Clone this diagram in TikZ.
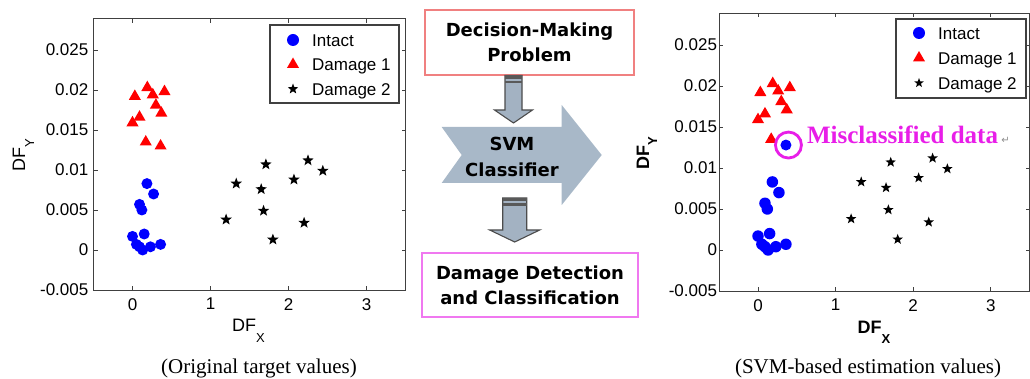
\documentclass[tikz,border=0pt]{standalone}
\usepackage{fontspec}
\setmainfont{Liberation Serif}
\setsansfont{Liberation Sans}
\newfontfamily\boxfont{DejaVu Sans}
\newfontfamily\symfont{DejaVu Sans}
\usetikzlibrary{shapes.geometric, positioning}

\definecolor{boxred}{RGB}{240,128,128}
\definecolor{boxpink}{RGB}{240,120,240}
\definecolor{arrowfill}{RGB}{168,184,200}
\definecolor{downfill}{RGB}{163,178,194}
\definecolor{miscpink}{RGB}{232,30,232}

\tikzset{
  frame/.style={draw=black!75, line width=0.8pt},
  intact/.style={circle, fill=blue, inner sep=0pt, minimum size=11pt},
  dmgone/.style={regular polygon, regular polygon sides=3, fill=red, inner sep=0pt, minimum size=14pt},
  dmgtwo/.style={star, star points=5, star point ratio=2.4, fill=black, inner sep=0pt, minimum size=12pt},
  ticklab/.style={font=\sffamily\fontsize{17}{17}\selectfont, inner sep=0pt},
  leglab/.style={font=\sffamily\fontsize{17}{17}\selectfont, anchor=base west, inner sep=0pt},
  axlab/.style={font=\sffamily\fontsize{18}{18}\selectfont, inner sep=0pt, anchor=base},
  flowbox/.style={draw, line width=1.3pt, fill=white, align=center,
    font=\boxfont\bfseries\fontsize{18}{25}\selectfont},
  downarrow/.style={fill=downfill, draw=black!70, line width=1.1pt},
  caption/.style={font=\rmfamily\fontsize{21}{21}\selectfont, inner sep=0pt}
}

% data (x, y in units of 0.001)
\newcommand{\intactpts}{0.185/8.3, 0.27/7.0, 0.09/5.7, 0.12/5.0, 0/1.7, 0.15/2.0, 0.05/0.7, 0.09/0.4, 0.13/0.0, 0.23/0.4, 0.36/0.7}
\newcommand{\dmgonepts}{0.19/20.3, 0.03/19.2, 0.26/19.4, 0.41/19.8, 0.30/18.1, 0.37/17.1, 0.09/16.6, 0.0/15.9, 0.17/13.5}
\newcommand{\dmgtwopts}{1.33/8.3, 1.71/10.7, 2.25/11.2, 2.44/9.9, 2.07/8.8, 1.65/7.6, 1.68/4.9, 1.20/3.8, 2.20/3.4, 1.80/1.3}

\newcommand{\plotaxes}[2]{% #1 prefix, #2 gap of the y labels
  \draw[frame] (-0.5,-5) rectangle (3.5,28.9);
  \foreach \t in {0,1,2,3} {
    \draw[frame] (\t,-5) -- ++(0pt,4pt) (\t,28.9) -- ++(0pt,-4pt);
    \node[ticklab, anchor=north, yshift=-8pt] (#1x\t) at (\t,-5) {\t};
  }
  \foreach \v/\lab [count=\k] in {-5/-0.005, 0/0, 5/0.005, 10/0.01, 15/0.015, 20/0.02, 25/0.025} {
    \draw[frame] (-0.5,\v) -- ++(4pt,0pt) (3.5,\v) -- ++(-4pt,0pt);
    \node[ticklab, anchor=east, xshift=-#2] (#1y\k) at (-0.5,\v) {\lab};
  }
}

% block arrow pointing down: centre x, top, head start, tip, shaft half width, head half width
\newcommand{\blockarrow}[6]{%
  \draw[downarrow] (#1-#5,#2) -- (#1+#5,#2) -- (#1+#5,#3) -- (#1+#6,#3) -- (#1,#4)
    -- (#1-#6,#3) -- (#1-#5,#3) -- cycle;
  \fill[black!65] (#1-#5,#2) rectangle (#1+#5,#2+3.5);
  \fill[black!65] (#1-#5,#2+5.5) rectangle (#1+#5,#2+8);
}

\begin{document}
\begin{tikzpicture}[x=1pt, y=-1pt]
\useasboundingbox (0,0) rectangle (1030,379);

% left plot
\begin{scope}[shift={(132.5,250)}, x=78pt, y=8pt]
  \plotaxes{L}{5pt}
  \foreach \p/\q [count=\k] in \intactpts {\node[intact] (Li\k) at (\p,\q) {};}
  \foreach \p/\q [count=\k] in \dmgonepts {\node[dmgone] (La\k) at (\p,\q) {};}
  \node[dmgone] (La10) at (0.36,13.0) {};
  \foreach \p/\q [count=\k] in \dmgtwopts {\node[dmgtwo] (Lb\k) at (\p,\q) {};}
\end{scope}
\draw[frame, line width=1.2pt] (270,25) rectangle (399,103);
\node[intact, minimum size=12pt] (Lki) at (293,40) {};
\node[dmgone, minimum size=14pt] (Lka) at (293,64.5) {};
\node[dmgtwo, minimum size=11pt] (Lkb) at (293,89) {};
\node[leglab] (Lti) at (312,46.5) {Intact};
\node[leglab] (Lta) at (312,71) {Damage 1};
\node[leglab] (Ltb) at (312,95.5) {Damage 2};
\node[axlab] (Lxl) at (248.5,331) {DF\raisebox{-11pt}{\fontsize{13}{13}\selectfont X}};
\node[axlab, rotate=90] (Lyl) at (25,155.5) {DF\raisebox{-9pt}{\fontsize{13}{13}\selectfont Y}};
\node[caption] (capL) at (259,368) {(Original target values)};

% middle: flow
\fill[arrowfill] (441.7,127) -- (561.7,127) -- (561.7,105) -- (601.7,155) -- (561.7,205)
  -- (561.7,183) -- (441.7,183) -- (461.7,155) -- cycle;
\node[flowbox, draw=boxred, minimum width=209pt, minimum height=65pt] (prob) at (529.5,42.5) {Decision-Making\\Problem};
\node[flowbox, draw=boxpink, minimum width=216pt, minimum height=64pt] (det) at (530,285) {Damage Detection\\and Classification};
\node[font=\boxfont\bfseries\fontsize{18}{26}\selectfont, align=center, inner sep=0pt] (svm) at (512,157) {SVM\\Classifier};
\blockarrow{513.5}{75.5}{110}{123}{8.5}{19}
\blockarrow{514.7}{198}{230}{242}{12}{25}

% right plot
\begin{scope}[shift={(758,250)}, x=77.6pt, y=8.2pt]
  \plotaxes{R}{2pt}
  \foreach \p/\q [count=\k] in \intactpts {\node[intact, minimum size=11.5pt] (Ri\k) at (\p,\q) {};}
  \node[intact, minimum size=11pt] (Rm) at (0.36,12.8) {};
  \foreach \p/\q [count=\k] in \dmgonepts {\node[dmgone] (Ra\k) at (\p,\q) {};}
  \foreach \p/\q [count=\k] in \dmgtwopts {\node[dmgtwo, minimum size=11pt] (Rb\k) at (\p,\q) {};}
\end{scope}
\draw[frame, line width=1.2pt] (896,19) rectangle (1026,98);
\node[intact, minimum size=12pt] (Rki) at (919,33) {};
\node[dmgone, minimum size=14pt] (Rka) at (919,58) {};
\node[dmgtwo, minimum size=10pt] (Rkb) at (919,83) {};
\node[leglab] (Rti) at (938,40) {Intact};
\node[leglab] (Rta) at (938,65) {Damage 1};
\node[leglab] (Rtb) at (938,90) {Damage 2};
\node[axlab, font=\sffamily\bfseries\fontsize{18}{18}\selectfont] (Rxl) at (874,333) {DF\raisebox{-10pt}{\fontsize{13}{13}\selectfont X}};
\node[axlab, font=\sffamily\bfseries\fontsize{18}{18}\selectfont, rotate=90] (Ryl) at (649,153) {DF\raisebox{-8pt}{\fontsize{13}{13}\selectfont Y}};
\node[circle, draw=miscpink, line width=2.8pt, minimum size=26pt, inner sep=0pt] (ring) at ([xshift=2.5pt]Rm) {};
\node[font=\rmfamily\bfseries\fontsize{25}{25}\selectfont, text=miscpink, anchor=base west, inner sep=0pt] (misc) at ([xshift=4pt, yshift=1.5pt]ring.east) {Misclassified data};
\node[font=\symfont\fontsize{10}{10}\selectfont, text=black!45, anchor=base west, inner sep=0pt] (pmark) at ([xshift=3pt]misc.base east) {↵};
\node[caption] (capR) at (868,368) {(SVM-based estimation values)};
\end{tikzpicture}
\end{document}
